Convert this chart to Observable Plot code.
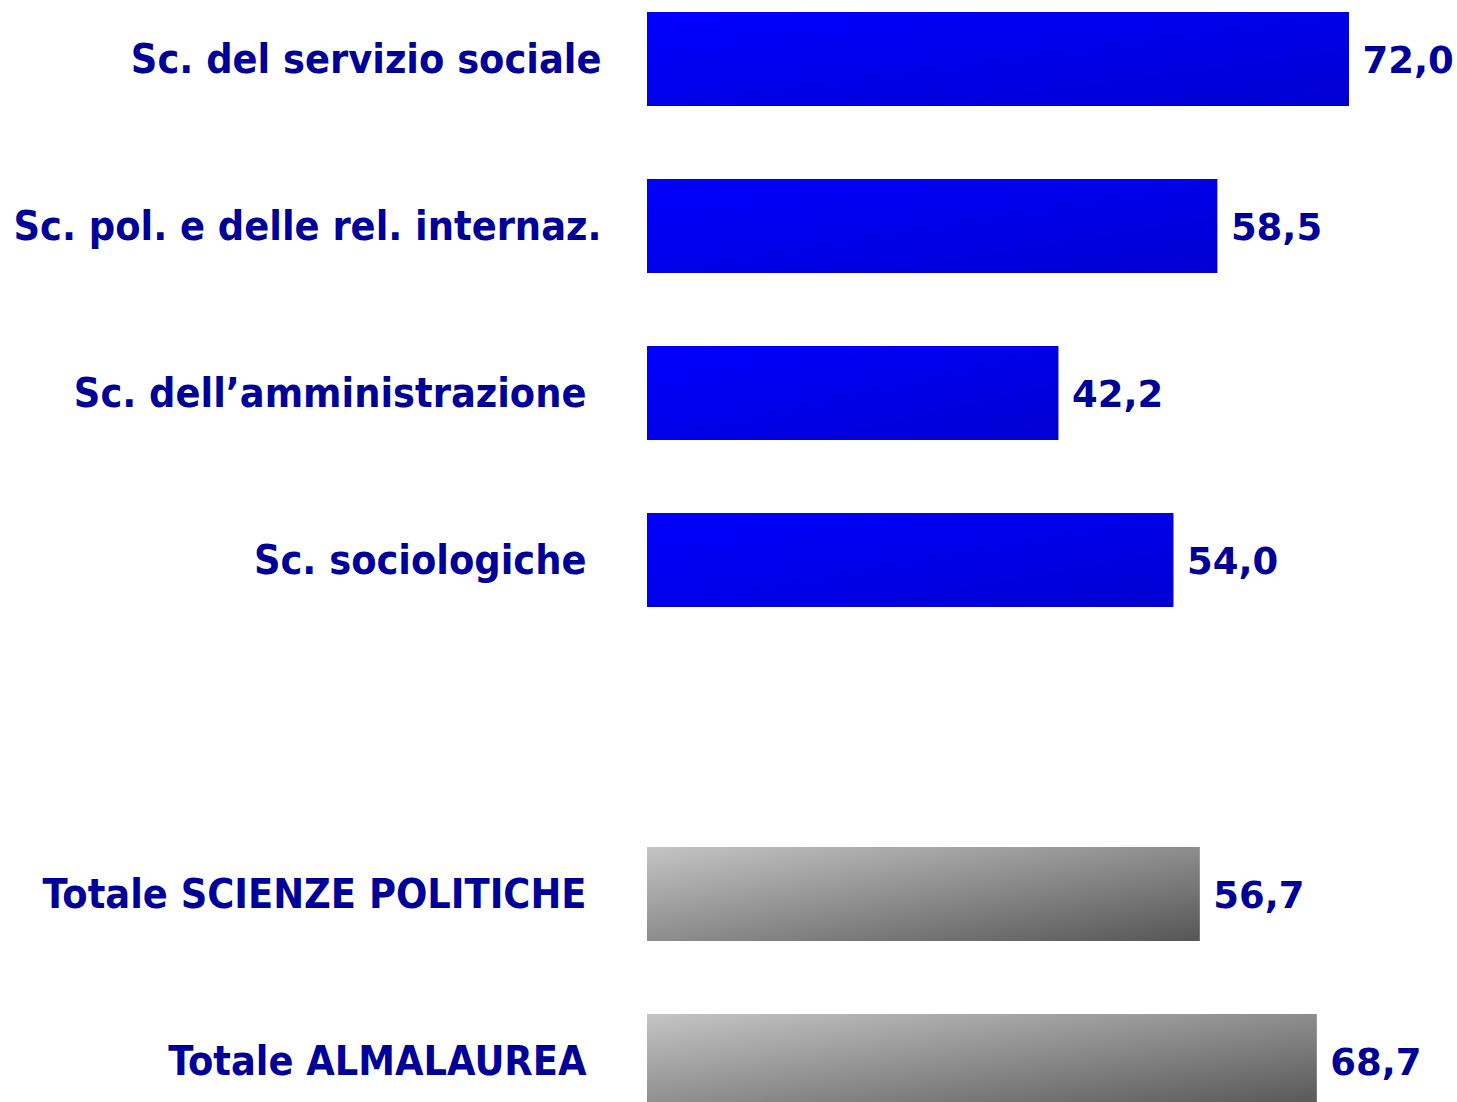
<!DOCTYPE html>
<html>
<head>
<meta charset="utf-8">
<script src="https://cdn.jsdelivr.net/npm/d3@7"></script>
<script src="https://cdn.jsdelivr.net/npm/@observablehq/plot@0.6"></script>
<style>
  html, body { margin: 0; padding: 0; background: #fff; overflow: hidden; }
</style>
</head>
<body>
<div id="chart"></div>
<script>
const categories = [
  "Sc. del servizio sociale",
  "Sc. pol. e delle rel. internaz.",
  "Sc. dell’amministrazione",
  "Sc. sociologiche",
  "Totale SCIENZE POLITICHE",
  "Totale ALMALAUREA"
];
const values = [72.0, 58.5, 42.2, 54.0, 56.7, 68.7];
const groups = ["corso", "corso", "corso", "corso", "totale", "totale"];
const yDomain = [categories[0], categories[1], categories[2], categories[3], " ", categories[4], categories[5]];

const data = categories.map((c, i) => ({ category: c, value: values[i], group: groups[i], idx: i }));
const fmt = v => d3.format(".1f")(v).replace(".", ",");
const textColor = "#000099";
const labelFont = "Tahoma, 'DejaVu Sans Condensed', 'DejaVu Sans', sans-serif";
const valueFont = "Verdana, 'DejaVu Sans', sans-serif";

const chart = Plot.plot({
  width: 1457,
  height: 1102,
  margin: 0,
  x: { domain: [0, 72], range: [647, 1349], axis: null },
  y: { domain: yDomain, range: [11.6, 1108.5], paddingInner: 0.4376, paddingOuter: 0, axis: null },
  marks: [
    Plot.barX(data, {
      x: "value", y: "category",
      fill: d => d.group === "corso" ? "url(#gradBlue)" : "url(#gradGray)"
    }),
    Plot.text(data.filter(d => d.idx < 2), {
      x: 0, y: "category", text: "category",
      textAnchor: "end", dx: -46,
      fill: textColor, fontSize: 41, fontWeight: "bold", fontFamily: labelFont
    }),
    Plot.text(data.filter(d => d.idx >= 2), {
      x: 0, y: "category", text: "category",
      textAnchor: "end", dx: -61,
      fill: textColor, fontSize: 41, fontWeight: "bold", fontFamily: labelFont
    }),
    Plot.text(data, {
      x: "value", y: "category", text: d => fmt(d.value),
      textAnchor: "start", dx: 13, dy: 2,
      fill: textColor, fontSize: 37, fontWeight: "bold", fontFamily: valueFont
    })
  ]
});

const svg = d3.select(chart);
const defs = svg.insert("defs", ":first-child");
const gb = defs.append("linearGradient").attr("id", "gradBlue")
  .attr("x1", 0).attr("y1", 0).attr("x2", 1).attr("y2", 1);
gb.append("stop").attr("offset", "0%").attr("stop-color", "#0000FF");
gb.append("stop").attr("offset", "100%").attr("stop-color", "#0000D2");
const gg = defs.append("linearGradient").attr("id", "gradGray")
  .attr("x1", 0).attr("y1", 0).attr("x2", 1).attr("y2", 1);
gg.append("stop").attr("offset", "0%").attr("stop-color", "#C4C4C4");
gg.append("stop").attr("offset", "100%").attr("stop-color", "#565656");

document.getElementById("chart").appendChild(chart);
</script>
</body>
</html>
